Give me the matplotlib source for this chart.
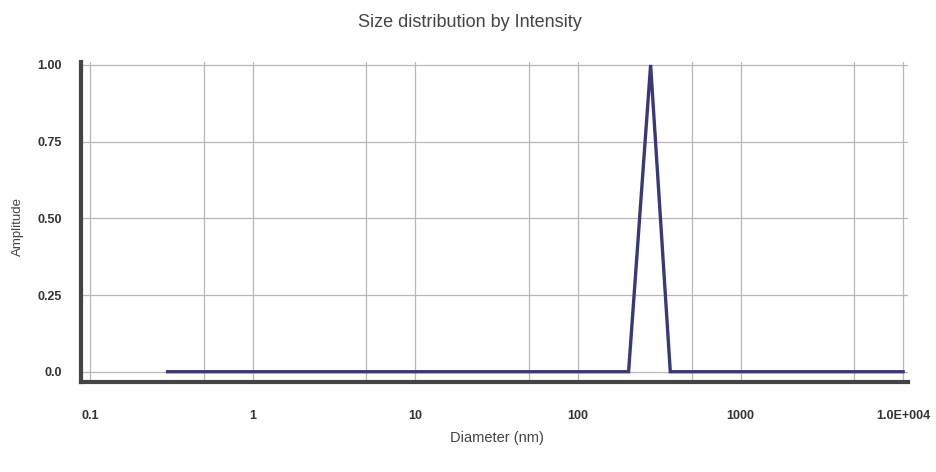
import matplotlib.pyplot as plt
from matplotlib.ticker import FixedLocator, NullLocator

plt.rcParams['font.family'] = ['Liberation Sans', 'DejaVu Sans']

# size distribution
diameter_nm = [0.3, 205, 280, 370, 10000]
amplitude = [0.0, 0.0, 1.0, 0.0, 0.0]

x_ticks = [0.1, 1, 10, 100, 1000, 10000]
x_tick_labels = ["0.1", "1", "10", "100", "1000", "1.0E+004"]
x_minor_grid = [0.5, 5, 50, 500, 5000]
y_ticks = [0.0, 0.25, 0.5, 0.75, 1.0]
y_tick_labels = ["0.0", "0.25", "0.50", "0.75", "1.00"]

fig = plt.figure(figsize=(9.36, 4.72), dpi=100)
ax = fig.add_axes([0.0865, 0.191, 0.8835, 0.678])

ax.plot(diameter_nm, amplitude, color="#38387a", lw=2.4, solid_joinstyle="miter", zorder=3)

ax.set_xscale("log")
ax.set_xlim(0.088, 10700)
ax.set_ylim(-0.033, 1.01)

ax.xaxis.set_major_locator(FixedLocator(x_ticks))
ax.set_xticklabels(x_tick_labels)
ax.xaxis.set_minor_locator(FixedLocator(x_minor_grid))
ax.set_yticks(y_ticks)
ax.set_yticklabels(y_tick_labels)
ax.yaxis.set_minor_locator(NullLocator())

ax.grid(True, which="both", axis="x", color="#b8b8b8", lw=0.9)
ax.grid(True, which="major", axis="y", color="#b8b8b8", lw=0.9)

ax.tick_params(axis="both", which="both", length=0, labelsize=9, colors="#333333")
ax.tick_params(axis="x", pad=20)
ax.tick_params(axis="y", pad=14)
for lbl in ax.get_xticklabels() + ax.get_yticklabels():
    lbl.set_fontweight("bold")

for side in ["top", "right"]:
    ax.spines[side].set_visible(False)
for side in ["left", "bottom"]:
    ax.spines[side].set_linewidth(3)
    ax.spines[side].set_color("#444444")

fig.text(0.502, 0.953, "Size distribution by Intensity", ha="center", va="center",
         fontsize=13, color="#444444")
fig.text(0.531, 0.072, "Diameter (nm)", ha="center", va="center", fontsize=10.5, color="#444444")
fig.text(0.019, 0.521, "Amplitude", ha="center", va="center", rotation=90,
         fontsize=9.5, color="#444444")

fig.savefig("out.png", dpi=100, facecolor="white")
